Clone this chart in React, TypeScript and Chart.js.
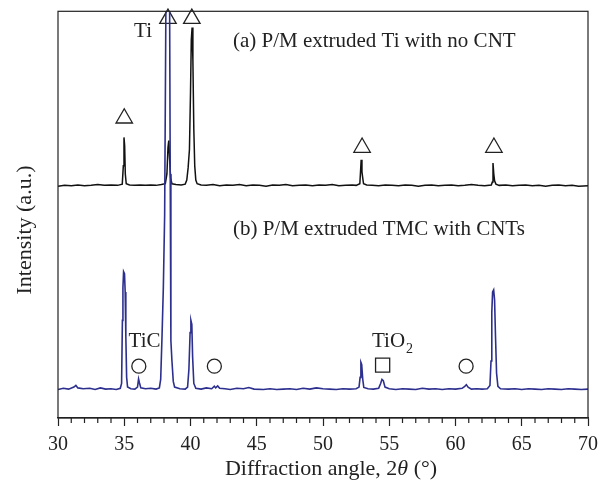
import { useEffect, useRef } from "react";
import { Chart, registerables } from "chart.js";

Chart.register(...registerables);

// (a) P/M extruded Ti with no CNT  (offset pattern, arbitrary units)
const angleA = [
  30.0, 30.5, 31.0, 31.5, 32.0, 32.5, 33.0, 33.5, 34.0, 34.5, 34.85, 34.93, 34.98, 35.03, 35.08, 35.15,
  35.4, 35.8, 36.2, 36.6, 37.0, 37.4, 37.8, 38.1, 38.22, 38.3, 38.36, 38.42, 38.5, 38.6, 38.9, 39.3,
  39.6, 39.72, 39.82, 39.92, 40.0, 40.06, 40.12, 40.18, 40.25, 40.32, 40.4, 40.5, 40.8, 41.2, 41.7,
  42.2, 42.7, 43.2, 43.7, 44.2, 44.7, 45.2, 45.7, 46.2, 46.7, 47.2, 47.7, 48.2, 48.7, 49.2, 49.7,
  50.2, 50.7, 51.2, 51.7, 52.2, 52.5, 52.78, 52.84, 52.88, 52.94, 53.0, 53.06, 53.3, 53.7, 54.2,
  54.7, 55.2, 55.7, 56.2, 56.7, 57.2, 57.7, 58.2, 58.7, 59.2, 59.7, 60.2, 60.7, 61.2, 61.7, 62.2,
  62.7, 62.78, 62.83, 62.89, 62.95, 63.05, 63.3, 63.8, 64.3, 64.8, 65.3, 65.8, 66.3, 66.8, 67.3,
  67.8, 68.3, 68.8, 69.3, 70.0,
];
const intensityA = [
  57.0, 57.2, 57.1, 57.3, 57.1, 57.2, 57.4, 57.2, 57.3, 57.2, 57.5, 62.0, 69.0, 67.0, 60.0, 57.6,
  57.3, 57.2, 57.3, 57.2, 57.3, 57.2, 57.4, 57.6, 60.0, 66.5, 68.2, 64.0, 59.0, 57.6, 57.4, 57.3,
  57.5, 58.5, 61.5, 66.0, 80.0, 93.0, 96.0, 88.0, 71.0, 62.0, 58.5, 57.6, 57.3, 57.2, 57.4,
  57.1, 57.3, 57.2, 57.4, 57.1, 57.3, 57.2, 57.0, 57.3, 57.2, 57.4, 57.1, 57.2, 57.3, 57.1, 57.3,
  57.2, 57.4, 57.1, 57.2, 57.3, 57.2, 57.6, 61.0, 63.5, 60.5, 59.0, 57.6, 57.3, 57.2, 57.1,
  57.3, 57.2, 57.1, 57.3, 57.2, 57.0, 57.2, 57.3, 57.1, 57.2, 57.3, 57.1, 57.2, 57.4, 57.2, 57.1,
  57.3, 58.0, 62.7, 60.0, 58.3, 57.5, 57.2, 57.3, 57.1, 57.2, 57.3, 57.1, 57.2, 57.0, 57.2,
  57.3, 57.1, 57.2, 57.0, 57.1,
];

// (b) P/M extruded TMC with CNTs
const angleB = [
  30.0, 30.4, 30.8, 31.2, 31.35, 31.5, 31.9, 32.4, 32.8, 33.2, 33.6, 34.0, 34.4, 34.7, 34.8, 34.86,
  34.9, 34.95, 35.02, 35.07, 35.12, 35.18, 35.25, 35.5, 35.8, 36.0, 36.08, 36.15, 36.25, 36.6, 37.0,
  37.4, 37.65, 37.75, 37.85, 37.95, 38.05, 38.15, 38.3, 38.42, 38.47, 38.52, 38.6, 38.7, 38.8, 39.2,
  39.6, 39.78, 39.88, 39.97, 40.03, 40.1, 40.16, 40.25, 40.4, 40.8, 41.2, 41.6, 41.8, 41.9, 42.05,
  42.2, 42.6, 43.0, 43.5, 44.0, 44.4, 44.8, 45.5, 46.0, 46.5, 47.0, 47.5, 48.0, 48.5, 49.0, 49.5,
  50.0, 50.5, 51.0, 51.5, 52.0, 52.5, 52.72, 52.8, 52.86, 52.92, 53.0, 53.08, 53.4, 53.8, 54.2,
  54.35, 54.45, 54.55, 54.68, 55.0, 55.5, 56.0, 56.5, 57.0, 57.5, 58.0, 58.5, 59.0, 59.5, 60.0,
  60.5, 60.7, 60.82, 60.95, 61.2, 61.6, 62.0, 62.4, 62.6, 62.68, 62.74, 62.8, 62.88, 62.95, 63.02,
  63.1, 63.2, 63.4, 64.0, 64.5, 65.0, 65.5, 66.0, 66.5, 67.0, 67.5, 68.0, 68.5, 69.0, 69.5, 70.0,
];
const intensityB = [
  7.0, 7.3, 7.1, 7.6, 8.0, 7.4, 7.2, 7.3, 7.0, 7.4, 7.1, 7.2, 7.0, 7.3, 8.5, 24.0,
  32.0, 36.0, 35.5, 31.0, 20.0, 10.0, 7.6, 7.2, 7.1, 7.6, 9.6, 8.6, 7.4, 7.2, 7.3,
  7.1, 7.4, 9.5, 20.0, 32.0, 50.0, 105.0, 140.0, 105.0, 60.0, 19.0, 14.0, 9.0, 7.6, 7.2,
  7.1, 7.6, 12.0, 21.0, 24.0, 23.0, 15.0, 8.5, 7.3, 7.1, 7.4, 7.2, 7.8, 7.4, 7.9,
  7.3, 7.2, 7.0, 7.3, 7.2, 7.5, 7.1, 7.0, 7.2, 7.0, 7.1, 7.2, 7.0, 7.3, 7.1, 7.4,
  7.2, 7.1, 7.0, 7.2, 7.1, 7.2, 7.6, 10.0, 13.7, 13.2, 9.5, 7.5, 7.2, 7.1, 7.3,
  8.5, 9.5, 9.2, 7.6, 7.2, 7.0, 7.2, 7.1, 7.0, 7.3, 7.1, 7.2, 7.0, 7.2, 7.1,
  7.3, 7.8, 8.2, 7.6, 7.1, 7.2, 7.1, 7.2, 8.0, 14.0, 26.0, 31.0, 31.5, 29.0, 20.0,
  11.0, 7.8, 7.2, 7.1, 7.2, 7.0, 7.2, 7.1, 7.0, 7.2, 7.1, 7.0, 7.2, 7.1, 7.0, 7.1,
];

// phase markers
const tiAngles = [35.0, 38.3, 40.1, 52.95, 62.9];
const tiHeights = [73.7, 98.2, 98.2, 66.5, 66.5];
const ticAngles = [36.1, 41.8, 60.8];
const ticHeights = [12.75, 12.75, 12.75];
const tio2Angles = [54.5];
const tio2Heights = [13.0];

// text annotations (anchored in data units)
const noteTexts = ["Ti", "(a) P/M extruded Ti with no CNT", "(b) P/M extruded TMC with CNTs", "TiC", "TiO"];
const noteAngles = [36.42, 43.2, 43.2, 36.53, 53.7];
const noteHeights = [93.6, 91.2, 44.9, 17.4, 17.4];
const noteAligns = ["center", "left", "left", "center", "left"];

const xTitleParts = ["Diffraction angle, 2", "θ", " (°)"];
const yTitle = "Intensity (a.u.)";
const xMin = 30;
const xMax = 70;
const xMajorStep = 5;

const SERIF = '"Liberation Serif", "Times New Roman", serif';
const INK = "#222222";
const BLUE = "#2c2f8e";

const pts = (xs: number[], ys: number[]) => xs.map((x, i) => ({ x, y: ys[i] }));

const decorPlugin = {
  id: "decor",
  afterDatasetsDraw(chart: any) {
    const { ctx, chartArea } = chart;
    const xs = chart.scales.x;
    const ys = chart.scales.y;
    ctx.save();
    // frame
    ctx.strokeStyle = INK;
    ctx.lineWidth = 1.2;
    ctx.strokeRect(chartArea.left, chartArea.top, chartArea.right - chartArea.left, chartArea.bottom - chartArea.top);
    // minor ticks
    for (let v = xMin + 1; v < xMax; v++) {
      if (v % xMajorStep === 0) continue;
      const px = xs.getPixelForValue(v);
      ctx.beginPath();
      ctx.moveTo(px, chartArea.bottom);
      ctx.lineTo(px, chartArea.bottom + 5);
      ctx.stroke();
    }
    // annotations
    ctx.fillStyle = INK;
    ctx.textBaseline = "alphabetic";
    ctx.font = `21px ${SERIF}`;
    noteTexts.forEach((t, i) => {
      ctx.textAlign = noteAligns[i];
      const px = xs.getPixelForValue(noteAngles[i]);
      const py = ys.getPixelForValue(noteHeights[i]);
      ctx.fillText(t, px, py);
      if (t === "TiO") {
        const w = ctx.measureText(t).width;
        ctx.font = `14px ${SERIF}`;
        ctx.textAlign = "left";
        ctx.fillText("2", px + w + 1, py + 6);
        ctx.font = `21px ${SERIF}`;
      }
    });
    // x axis title (with italic theta)
    const fonts = [`22px ${SERIF}`, `italic 22px ${SERIF}`, `22px ${SERIF}`];
    let total = 0;
    const widths = xTitleParts.map((p, i) => {
      ctx.font = fonts[i];
      const w = ctx.measureText(p).width;
      total += w;
      return w;
    });
    let cx = 331 - total / 2;
    ctx.textAlign = "left";
    ctx.textBaseline = "middle";
    xTitleParts.forEach((p, i) => {
      ctx.font = fonts[i];
      ctx.fillText(p, cx, 469);
      cx += widths[i];
    });
    // y axis title
    ctx.font = `22px ${SERIF}`;
    ctx.textAlign = "center";
    ctx.translate(25, 230);
    ctx.rotate(-Math.PI / 2);
    ctx.fillText(yTitle, 0, 0);
    ctx.restore();
  },
};

export default function App() {
  const ref = useRef<HTMLCanvasElement | null>(null);
  useEffect(() => {
    if (!ref.current) return;
    const chart = new Chart(ref.current, {
      type: "line",
      data: {
        datasets: [
          {
            label: "(b)",
            data: pts(angleB, intensityB),
            borderColor: BLUE,
            borderWidth: 1.6,
            pointRadius: 0,
            tension: 0,
          },
          {
            label: "(a)",
            data: pts(angleA, intensityA),
            borderColor: "#111111",
            borderWidth: 1.5,
            pointRadius: 0,
            tension: 0,
          },
          {
            label: "Ti",
            data: pts(tiAngles, tiHeights),
            showLine: false,
            pointStyle: "triangle",
            pointRadius: 9.5,
            pointBorderColor: INK,
            pointBackgroundColor: "rgba(0,0,0,0)",
            pointBorderWidth: 1.3,
            clip: false,
          },
          {
            label: "TiC",
            data: pts(ticAngles, ticHeights),
            showLine: false,
            pointStyle: "circle",
            pointRadius: 7,
            pointBorderColor: INK,
            pointBackgroundColor: "rgba(0,0,0,0)",
            pointBorderWidth: 1.3,
            clip: false,
          },
          {
            label: "TiO2",
            data: pts(tio2Angles, tio2Heights),
            showLine: false,
            pointStyle: "rect",
            pointRadius: 10,
            pointBorderColor: INK,
            pointBackgroundColor: "rgba(0,0,0,0)",
            pointBorderWidth: 1.3,
            clip: false,
          },
        ] as any,
      },
      options: {
        animation: false,
        responsive: false,
        maintainAspectRatio: false,
        layout: { padding: { left: 58, right: 17, top: 10, bottom: 0 } },
        plugins: { legend: { display: false }, tooltip: { enabled: false } },
        scales: {
          x: {
            type: "linear",
            min: xMin,
            max: xMax,
            afterFit: (s: any) => {
              s.height = 68;
            },
            ticks: {
              stepSize: xMajorStep,
              color: INK,
              font: { family: SERIF, size: 20 },
              padding: 7,
            },
            grid: { drawOnChartArea: false, tickLength: 8, tickColor: INK, tickWidth: 1.2 },
            border: { display: true, color: INK, width: 1.2 },
          },
          y: { type: "linear", min: 0, max: 100, display: false },
        },
      } as any,
      plugins: [decorPlugin],
    });
    return () => chart.destroy();
  }, []);
  return (
    <div style={{ position: "fixed", left: 0, top: 0, width: 605, height: 486, background: "#fff" }}>
      <canvas ref={ref} width={605} height={486} style={{ width: 605, height: 486 }} />
    </div>
  );
}
